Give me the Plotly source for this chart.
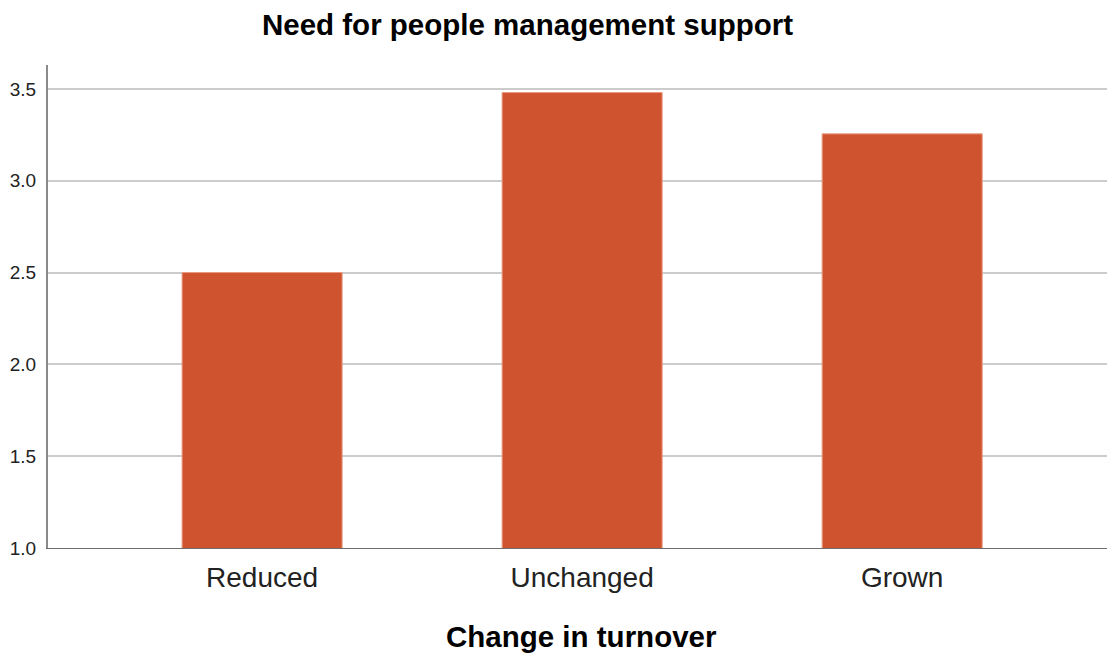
import plotly.graph_objects as go

categories = ["Reduced", "Unchanged", "Grown"]
values = [2.50, 3.48, 3.255]
y_ticks = [1.0, 1.5, 2.0, 2.5, 3.0, 3.5]

# page body has an 8px default margin; figure sized to fill the rest of the window
OFF = 8
W, H = 1115 - OFF, 655 - OFF

fig = go.Figure(go.Bar(
    x=categories, y=values, width=0.5,
    marker=dict(color="#d0532f", line=dict(color="#e89a82", width=1)),
))

FONT = "Liberation Sans, Arial, sans-serif"
fig.update_layout(
    width=W, height=H,
    margin=dict(l=48 - OFF, r=0, t=65 - OFF, b=107),
    paper_bgcolor="white", plot_bgcolor="white",
    font=dict(family=FONT, color="#111"),
    title=dict(text="<b>Need for people management support</b>", x=(527.5 - OFF) / W, xanchor="center",
               xref="container", yref="container", y=1 - (25 - OFF) / H, yanchor="middle",
               font=dict(size=29.5, color="#000")),
    showlegend=False,
    annotations=[dict(
        text="<b>Change in turnover</b>", xref="paper", yref="paper",
        x=0.5, y=(548 - 636) / 483, xanchor="center", yanchor="middle",
        showarrow=False, font=dict(size=29.5, color="#000", family=FONT),
    )],
)
fig.update_xaxes(
    range=[-0.669, 2.665], showgrid=False, showline=True, linecolor="#6e6e6e", linewidth=1,
    ticks="", tickfont=dict(size=28, color="#222"), automargin=False, ticklabelstandoff=4,
)
fig.update_yaxes(
    range=[1.0, 3.63], tickvals=y_ticks, ticktext=[f"{v:.1f}" for v in y_ticks],
    showgrid=True, gridcolor="#cccccc", gridwidth=2, showline=True, linecolor="#8a8a8a", linewidth=2,
    ticks="", tickfont=dict(size=19, color="#222"), zeroline=False, automargin=False,
    ticklabelstandoff=6,
)

fig.write_html("out.html")
